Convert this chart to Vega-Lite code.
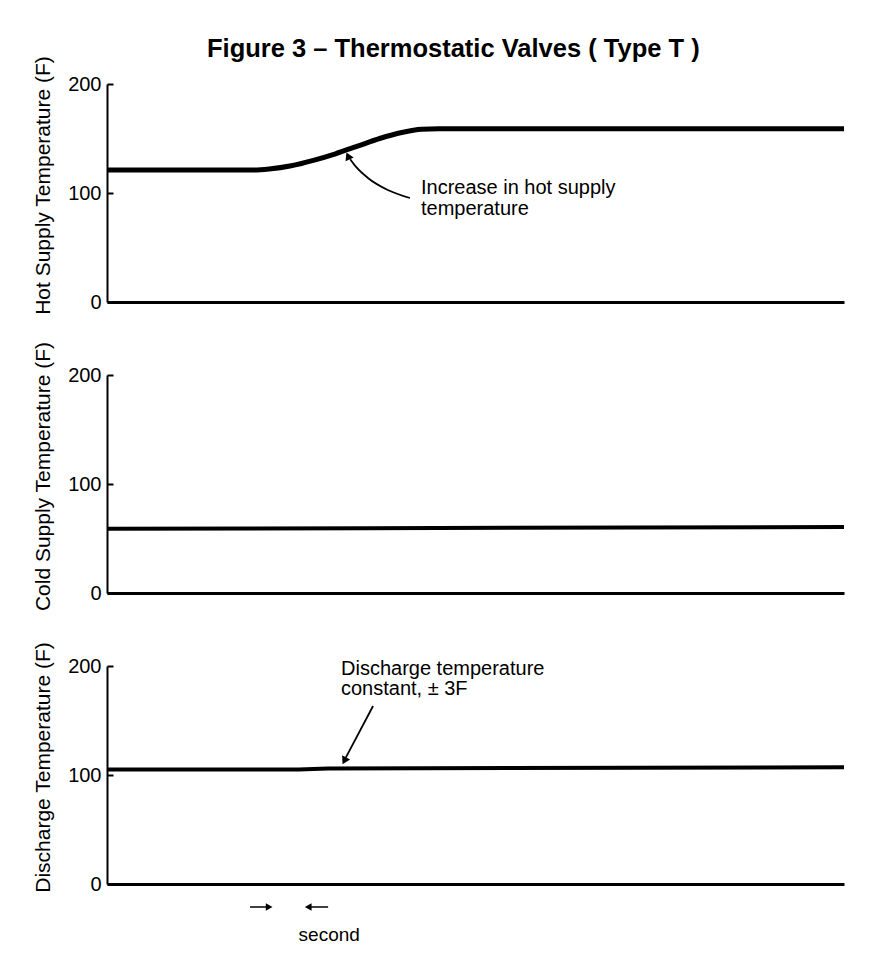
{
  "$schema": "https://vega.github.io/schema/vega-lite/v6.json",
  "background": "white",
  "padding": {"left": 32, "top": 36, "right": 40, "bottom": 10},
  "title": {"text": "Figure 3 – Thermostatic Valves ( Type T )", "fontSize": 25.5, "fontWeight": "bold", "font": "Liberation Sans", "color": "black", "anchor": "middle", "offset": -2, "dx": 10, "dy": 5},
  "datasets": {
    "hot": [
      {"t": 0, "v": 121}, {"t": 19.8, "v": 121}, {"t": 22, "v": 122}, {"t": 25, "v": 125},
      {"t": 28, "v": 130}, {"t": 31, "v": 136}, {"t": 34, "v": 143}, {"t": 37, "v": 150},
      {"t": 40, "v": 155.5}, {"t": 42.7, "v": 158.5}, {"t": 45, "v": 159}, {"t": 100, "v": 159}
    ],
    "cold": [{"t": 0, "v": 59}, {"t": 35, "v": 59.5}, {"t": 100, "v": 60.5}],
    "dis": [{"t": 0, "v": 105}, {"t": 26, "v": 105}, {"t": 30, "v": 106}, {"t": 100, "v": 107}],
    "arrowHot": [
      {"i": 1, "t": 41.1, "v": 95.4}, {"i": 2, "t": 38.1, "v": 102.8}, {"i": 3, "t": 35.4, "v": 113.8},
      {"i": 4, "t": 33.8, "v": 123.9}, {"i": 5, "t": 33.0, "v": 131}
    ],
    "headHot": [{"t": 32.7, "v": 134, "a": -25}],
    "textHot": [
      {"t": 42.6, "v": 104.6, "label": "Increase in hot supply"},
      {"t": 42.6, "v": 85.3, "label": "temperature"}
    ],
    "arrowDis": [{"i": 1, "t": 36.1, "v": 163.3}, {"i": 2, "t": 32.4, "v": 116}],
    "headDis": [{"t": 32.2, "v": 113, "a": 27}],
    "textDis": [
      {"t": 31.75, "v": 197.2, "label": "Discharge temperature"},
      {"t": 31.75, "v": 178.9, "label": "constant, ± 3F"}
    ],
    "textSec": [{"t": 26.0, "v": -46.8, "label": "second"}],
    "secArrows": [
      {"g": "r", "t": 19.4, "v": -21.1}, {"g": "r", "t": 22.0, "v": -21.1},
      {"g": "l", "t": 30.0, "v": -21.1}, {"g": "l", "t": 27.3, "v": -21.1}
    ],
    "secHeads": [
      {"t": 22.0, "v": -21.1, "s": "triangle-right"},
      {"t": 27.3, "v": -21.1, "s": "triangle-left"}
    ]
  },
  "vconcat": [
    {
      "width": 737, "height": 218,
      "layer": [
        {"data": {"name": "hot"}, "mark": {"type": "line", "color": "black", "strokeWidth": 5, "interpolate": "monotone"},
         "encoding": {
           "x": {"field": "t", "type": "quantitative", "scale": {"domain": [0, 100]}},
           "y": {"field": "v", "type": "quantitative", "scale": {"domain": [0, 200]}, "title": "Hot Supply Temperature (F)", "axis": {"values": [0, 100, 200]}}
         }},
        {"data": {"name": "arrowHot"}, "mark": {"type": "line", "color": "black", "strokeWidth": 1.8, "interpolate": "monotone"},
         "encoding": {"x": {"field": "t", "type": "quantitative"}, "y": {"field": "v", "type": "quantitative"}, "order": {"field": "i"}}},
        {"data": {"name": "headHot"}, "mark": {"type": "point", "shape": "triangle-up", "filled": true, "color": "black", "size": 80, "opacity": 1},
         "encoding": {"x": {"field": "t", "type": "quantitative"}, "y": {"field": "v", "type": "quantitative"}, "angle": {"field": "a", "type": "quantitative", "scale": null}}},
        {"data": {"name": "textHot"}, "mark": {"type": "text", "align": "left", "baseline": "middle", "fontSize": 20, "font": "Liberation Sans", "color": "black"},
         "encoding": {"x": {"field": "t", "type": "quantitative"}, "y": {"field": "v", "type": "quantitative"}, "text": {"field": "label"}}}
      ]
    },
    {
      "width": 737, "height": 218,
      "layer": [
        {"data": {"name": "cold"}, "mark": {"type": "line", "color": "black", "strokeWidth": 4},
         "encoding": {
           "x": {"field": "t", "type": "quantitative", "scale": {"domain": [0, 100]}},
           "y": {"field": "v", "type": "quantitative", "scale": {"domain": [0, 200]}, "title": "Cold Supply Temperature (F)", "axis": {"values": [0, 100, 200]}}
         }}
      ]
    },
    {
      "width": 737, "height": 218,
      "layer": [
        {"data": {"name": "dis"}, "mark": {"type": "line", "color": "black", "strokeWidth": 4},
         "encoding": {
           "x": {"field": "t", "type": "quantitative", "scale": {"domain": [0, 100]}},
           "y": {"field": "v", "type": "quantitative", "scale": {"domain": [0, 200]}, "title": "Discharge Temperature (F)", "axis": {"values": [0, 100, 200]}}
         }},
        {"data": {"name": "arrowDis"}, "mark": {"type": "line", "color": "black", "strokeWidth": 1.8},
         "encoding": {"x": {"field": "t", "type": "quantitative"}, "y": {"field": "v", "type": "quantitative"}, "order": {"field": "i"}}},
        {"data": {"name": "headDis"}, "mark": {"type": "point", "shape": "triangle-down", "filled": true, "color": "black", "size": 80, "opacity": 1},
         "encoding": {"x": {"field": "t", "type": "quantitative"}, "y": {"field": "v", "type": "quantitative"}, "angle": {"field": "a", "type": "quantitative", "scale": null}}},
        {"data": {"name": "textDis"}, "mark": {"type": "text", "align": "left", "baseline": "middle", "fontSize": 20, "font": "Liberation Sans", "color": "black"},
         "encoding": {"x": {"field": "t", "type": "quantitative"}, "y": {"field": "v", "type": "quantitative"}, "text": {"field": "label"}}},
        {"data": {"name": "textSec"}, "mark": {"type": "text", "align": "left", "baseline": "middle", "fontSize": 19, "font": "Liberation Sans", "color": "black"},
         "encoding": {"x": {"field": "t", "type": "quantitative"}, "y": {"field": "v", "type": "quantitative"}, "text": {"field": "label"}}},
        {"data": {"name": "secArrows"}, "mark": {"type": "line", "color": "black", "strokeWidth": 1.5},
         "encoding": {"x": {"field": "t", "type": "quantitative"}, "y": {"field": "v", "type": "quantitative"}, "detail": {"field": "g"}}},
        {"data": {"name": "secHeads"}, "mark": {"type": "point", "filled": true, "color": "black", "size": 60, "opacity": 1},
         "encoding": {"x": {"field": "t", "type": "quantitative"}, "y": {"field": "v", "type": "quantitative"}, "shape": {"field": "s", "type": "nominal", "scale": null}}}
      ]
    }
  ],
  "spacing": 73,
  "bounds": "flush",
  "config": {
    "view": {"stroke": null},
    "axisX": {"title": null, "labels": false, "ticks": false, "grid": false, "domainColor": "black", "domainWidth": 3},
    "axisY": {"grid": false, "domainColor": "black", "domainWidth": 2, "tickColor": "black", "tickWidth": 2, "tickSize": -6, "labelPadding": 12, "labelFont": "Liberation Sans", "labelFontSize": 20, "labelColor": "black", "titleFont": "Liberation Sans", "titleFontSize": 21, "titleFontWeight": "normal", "titleColor": "black", "titlePadding": 14, "titleY": 101}
  }
}
